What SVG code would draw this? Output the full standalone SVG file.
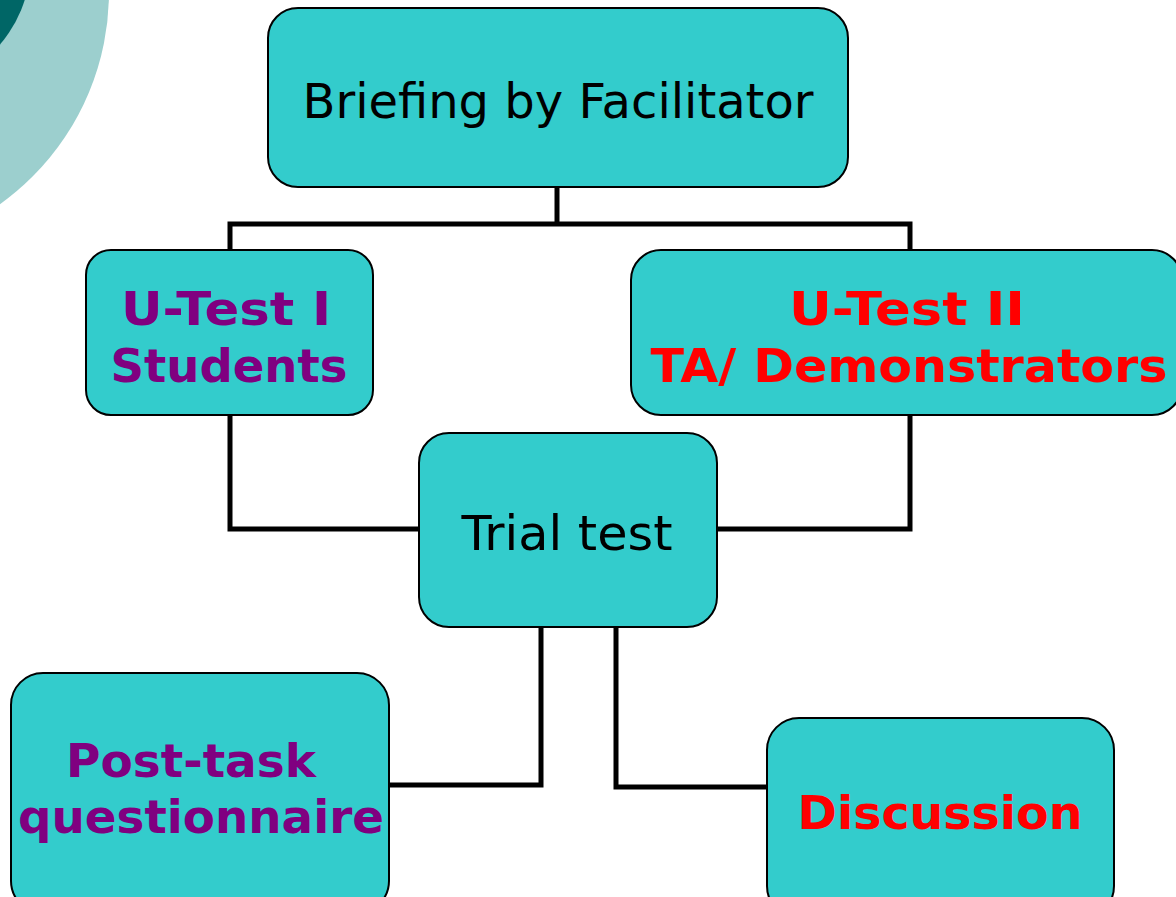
<svg xmlns="http://www.w3.org/2000/svg" width="1176" height="897" viewBox="0 0 1176 897">
<style>
.box{fill:#33CCCC;stroke:#000;stroke-width:2}
.wire{fill:none;stroke:#000;stroke-width:5}
.t{font-family:"DejaVu Sans",Verdana,sans-serif;text-anchor:middle}
.n{font-size:48px;fill:#000}
.b{font-size:47px;font-weight:bold}
.p{fill:#800080}
.r{fill:#FF0000}
</style>
<rect width="1176" height="897" fill="#fff"/>
<g id="background">
<circle cx="-152" cy="-8" r="261" fill="#9CCFCE"/>
<circle cx="-100" cy="-40" r="131" fill="#006666"/>
</g>
<g id="connectors">
<polyline class="wire" points="557,187 557,224"/>
<polyline class="wire" points="230,250 230,224 910,224 910,250"/>
<polyline class="wire" points="230,415 230,529 419,529"/>
<polyline class="wire" points="910,415 910,529 717,529"/>
<polyline class="wire" points="541,627 541,785 389,785"/>
<polyline class="wire" points="616,627 616,787 768,787"/>
</g>
<g id="briefing">
<rect class="box" x="268" y="8" width="580" height="179" rx="30"/>
<text class="t n" x="558" y="118" textLength="511" lengthAdjust="spacingAndGlyphs">Briefing by Facilitator</text>
</g>
<g id="utest1">
<rect class="box" x="86" y="250" width="287" height="165" rx="25"/>
<text class="t b p" x="226" y="325" textLength="210" lengthAdjust="spacingAndGlyphs">U-Test I</text>
<text class="t b p" x="229" y="382" textLength="237" lengthAdjust="spacingAndGlyphs">Students</text>
</g>
<g id="utest2">
<rect class="box" x="631" y="250" width="551" height="165" rx="30"/>
<text class="t b r" x="907" y="325" textLength="236" lengthAdjust="spacingAndGlyphs">U-Test II</text>
<text class="t b r" x="909" y="382" textLength="517" lengthAdjust="spacingAndGlyphs">TA/ Demonstrators</text>
</g>
<g id="trial">
<rect class="box" x="419" y="433" width="298" height="194" rx="30"/>
<text class="t n" x="567" y="550" textLength="211" lengthAdjust="spacingAndGlyphs">Trial test</text>
</g>
<g id="posttask">
<rect class="box" x="11" y="673" width="378" height="240" rx="32"/>
<text class="t b p" x="191" y="777" textLength="250" lengthAdjust="spacingAndGlyphs">Post-task</text>
<text class="t b p" x="201" y="833" textLength="366" lengthAdjust="spacingAndGlyphs">questionnaire</text>
</g>
<g id="discussion">
<rect class="box" x="767" y="718" width="347" height="200" rx="32"/>
<text class="t b r" x="940" y="829" textLength="285" lengthAdjust="spacingAndGlyphs">Discussion</text>
</g>
</svg>
